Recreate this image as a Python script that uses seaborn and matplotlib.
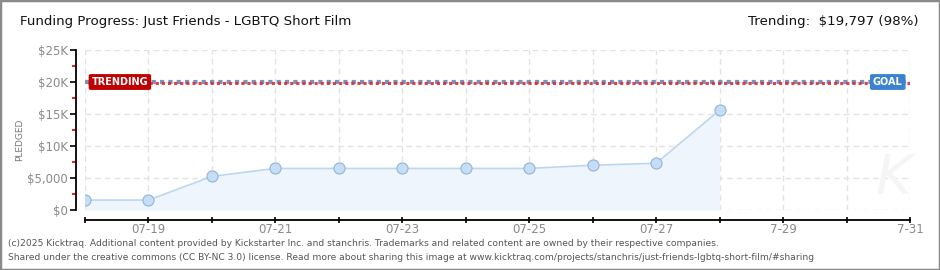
import matplotlib
matplotlib.use("Agg")
import matplotlib.pyplot as plt
from matplotlib.patches import Rectangle
from matplotlib.ticker import FixedLocator
import seaborn as sns
import pandas as pd

# ---- data ----
dates = ["07-18", "07-19", "07-20", "07-21", "07-22", "07-23", "07-24",
         "07-25", "07-26", "07-27", "07-28"]
pledged = [1550, 1550, 5250, 6500, 6500, 6500, 6500, 6500, 7000, 7300, 15600]
all_days = ["07-18", "07-19", "07-20", "07-21", "07-22", "07-23", "07-24",
            "07-25", "07-26", "07-27", "07-28", "07-29", "07-30", "07-31"]
tick_labels = ["", "07-19", "", "07-21", "", "07-23", "", "07-25", "",
               "07-27", "", "7-29", "", "7-31"]
y_ticks = [0, 5000, 10000, 15000, 20000, 25000]
y_tick_labels = ["$0", "$5,000", "$10K", "$15K", "$20K", "$25K"]
goal = 20000
trending = 19797
title = "Funding Progress: Just Friends - LGBTQ Short Film"
trend_text = "Trending:  $19,797 (98%)"
footer1 = ("(c)2025 Kicktraq. Additional content provided by Kickstarter Inc. and stanchris. "
           "Trademarks and related content are owned by their respective companies.")
footer2 = ("Shared under the creative commons (CC BY-NC 3.0) license. Read more about sharing "
           "this image at www.kicktraq.com/projects/stanchris/just-friends-lgbtq-short-film/#sharing")

sns.set_theme(style="white")
plt.rcParams['font.family'] = ['DejaVu Sans']

df = pd.DataFrame({"day": [all_days.index(d) for d in dates], "pledged": pledged})

fig = plt.figure(figsize=(9.4, 2.7), dpi=100)
fig.patch.set_facecolor("white")
ax = fig.add_axes([85/940, 1-210/270, (910-85)/940, (210-50)/270])

ax.fill_between(df["day"], df["pledged"], 0, color="#eef5fd", zorder=1, lw=0)
sns.lineplot(data=df, x="day", y="pledged", ax=ax, color="#bcd6f2", lw=1.2,
             marker="o", markersize=8, markerfacecolor="#c6ddf6",
             markeredgecolor="#94b4d6", markeredgewidth=0.8, zorder=3)

# goal / trending dotted lines
ax.plot([0, len(all_days)-1], [goal, goal], color="#7f8fb8", lw=3,
        ls=(0, (1, 1)), zorder=4, dash_capstyle="butt")
ax.plot([0, len(all_days)-1], [trending, trending], color="#d9303a", lw=2.2,
        ls=(1, (1, 1)), zorder=4, dash_capstyle="butt", alpha=0.9)

ax.set_xlim(0, len(all_days)-1)
ax.set_ylim(0, 25000)

# grid
for d in range(len(all_days)):
    ax.axvline(d, color="#e2e2e2", lw=1, ls=(0, (4, 3)), zorder=0)
for yv in y_ticks:
    ax.axhline(yv, color="#e2e2e2", lw=1, ls=(0, (4, 3)), zorder=0)

# spines
for s in ["top", "right"]:
    ax.spines[s].set_visible(False)
ax.spines["left"].set_position(("outward", 9*0.72))
ax.spines["bottom"].set_position(("outward", 10*0.72))
for s in ["left", "bottom"]:
    ax.spines[s].set_color("black")
    ax.spines[s].set_linewidth(1.3)

ax.set_xticks(range(len(all_days)))
ax.set_xticklabels(tick_labels)
ax.set_yticks(y_ticks)
ax.set_yticklabels(y_tick_labels)
ax.yaxis.set_minor_locator(FixedLocator([2500, 7500, 12500, 17500, 22500]))
ax.tick_params(axis="y", which="major", direction="out", length=4, width=1.2,
               color="black", labelsize=8.5, labelcolor="#8a8a8a", pad=2, left=True)
ax.tick_params(axis="y", which="minor", direction="out", length=3, width=1.2,
               color="#e00000", left=True)
ax.tick_params(axis="x", which="major", direction="inout", length=5, width=1.2,
               color="black", labelsize=8.5, labelcolor="#8a8a8a", pad=0, bottom=True)
ax.set_xlabel("")
ax.set_ylabel("")

# label tags
ax.text(0.55, goal, "TRENDING", color="white", fontsize=7, ha="center", va="center",
        zorder=7, fontweight="bold",
        bbox=dict(boxstyle="round,pad=0.3,rounding_size=0.2", fc="#c00000", ec="none"))
ax.text(12.65, goal, "GOAL", color="white", fontsize=7, ha="center", va="center",
        zorder=7, fontweight="bold",
        bbox=dict(boxstyle="round,pad=0.3,rounding_size=0.2", fc="#3b82d0", ec="none"))

# watermark
ax.text(12.75, 5000, "K", fontsize=40, color="#f5f5f5", ha="center",
        va="center", style="italic", zorder=0)

# titles
fig.text(20/940, 1-22/270, title, fontsize=9.6, color="#111111", va="center", ha="left")
fig.text(918/940, 1-22/270, trend_text, fontsize=9.6, color="#111111", va="center", ha="right")
fig.text(20/940, 130/270, "PLEDGED", rotation=90, fontsize=6.5, color="#777777",
         va="center", ha="center")

fig.text(8/940, 1-243/270, footer1, fontsize=6.6, color="#555555", va="center", ha="left")
fig.text(8/940, 1-257/270, footer2, fontsize=6.6, color="#555555", va="center", ha="left")

fig.patches.append(Rectangle((0, 0), 1, 1, transform=fig.transFigure, fill=False,
                             ec="#8a8a8a", lw=2.5))

fig.savefig("out.png", dpi=100)
